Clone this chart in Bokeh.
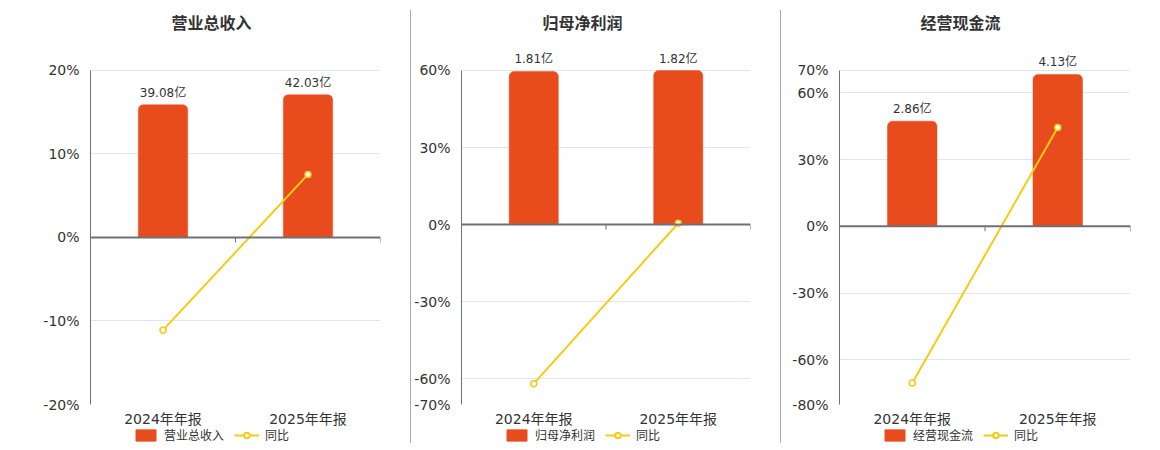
from bokeh.plotting import figure
from bokeh.models import (Range1d, FixedTicker, PrintfTickFormatter, Span, Legend,
                          LegendItem, ColumnDataSource, Div, FactorRange)
from bokeh.transform import dodge
from bokeh.layouts import row, column
from bokeh.embed import file_html
from bokeh.resources import INLINE
from bokeh.core.properties import value

# ---------------- data ----------------
categories = ["2024年年报", "2025年年报"]
titles = ["营业总收入", "归母净利润", "经营现金流"]
bar_values = [[39.08, 42.03], [1.81, 1.82], [2.86, 4.13]]
bar_labels = [["39.08亿", "42.03亿"], ["1.81亿", "1.82亿"], ["2.86亿", "4.13亿"]]
yoy_label = "同比"
yoy_values = [[-11.1, 7.55], [-61.9, 0.55], [-70.3, 44.4]]
pct_ticks = [[-20, -10, 0, 10, 20], [-70, -60, -30, 0, 30, 60], [-80, -60, -30, 0, 30, 60, 70]]
pct_ranges = [(-20, 20), (-70, 60), (-80, 70)]
bar_axis_top = [49.2, 1.822, 4.24]

# ---------------- style ----------------
BAR = "#E84C1D"
YEL = "#F5CB14"
AXIS = "#6e7079"
GRID = "#e0e6f1"
TXT = "#333333"
FONT = "DejaVu Sans, Noto Sans CJK SC"

widths = [402, 369, 371]
b_left = [82, 48, 58]
b_right = [30, 30, 22]
H = 429
HEAD = 20            # px of headroom above the top gridline (room for bar labels)
B_TOP = 70 - HEAD
B_BOT = 24
PLOT_PX = H - 70 - B_BOT   # pixel height of the gridded area
LEG_H = 18


def panel(i):
    lo, hi = pct_ranges[i]
    ext = HEAD * (hi - lo) / PLOT_PX
    p = figure(width=widths[i], height=H,
               x_range=FactorRange(*categories),
               y_range=Range1d(lo, hi + ext),
               output_backend="svg", toolbar_location=None,
               min_border_left=b_left[i], min_border_right=b_right[i],
               min_border_top=B_TOP, min_border_bottom=B_BOT)
    p.outline_line_color = None
    p.background_fill_color = "white"
    p.border_fill_color = "white"

    top = bar_axis_top[i]
    p.extra_y_ranges = {"bar": Range1d(top * lo / hi, top * (hi + ext) / hi)}

    src = ColumnDataSource(dict(cat=categories, val=bar_values[i],
                                lab=bar_labels[i], yoy=yoy_values[i]))

    # title
    p.title.text = titles[i]
    p.title.align = "left"
    p.title.offset = 81
    p.title.padding = (0, 0, 0, 32 - HEAD)
    p.title.text_font = "Noto Sans CJK SC"
    p.title.text_font_size = "16px"
    p.title.text_font_style = "bold"
    p.title.text_color = TXT

    # axes
    p.yaxis.ticker = FixedTicker(ticks=pct_ticks[i])
    p.yaxis.formatter = PrintfTickFormatter(format="%d%%")
    p.yaxis.bounds = (lo, hi)
    p.yaxis.major_tick_line_color = None
    p.yaxis.minor_tick_line_color = None
    p.yaxis.axis_line_color = AXIS
    p.yaxis.major_label_text_font = FONT
    p.yaxis.major_label_text_font_size = "14px"
    p.yaxis.major_label_text_color = TXT
    p.yaxis.major_label_standoff = 5

    p.xaxis.axis_line_color = None
    p.xaxis.major_tick_line_color = None
    p.xaxis.major_tick_out = 0
    p.xaxis.major_label_text_font = FONT
    p.xaxis.major_label_text_font_size = "14px"
    p.xaxis.major_label_text_color = TXT
    p.xaxis.major_label_standoff = 6

    p.xgrid.grid_line_color = None
    p.ygrid.grid_line_color = GRID
    p.ygrid.grid_line_width = 1

    # bars
    p.vbar(x="cat", top="val", width=0.34, source=src, y_range_name="bar",
           fill_color=BAR, line_color=BAR, line_width=0.5,
           border_radius=(5, 5, 0, 0))
    p.text(x="cat", y="val", text="lab", source=src, y_range_name="bar",
           text_align="center", text_baseline="middle", y_offset=-12,
           text_font=value(FONT), text_font_size="12px", text_color=TXT)

    # zero axis line and its ticks
    p.add_layout(Span(location=0, dimension="width", line_color=AXIS, line_width=2))
    tl = 5.0 * (hi - lo) / PLOT_PX
    p.segment(x0=dodge("cat", 0.5, range=p.x_range), y0=0,
              x1=dodge("cat", 0.5, range=p.x_range), y1=-tl,
              source=src, line_color=AXIS, line_width=1)

    # yoy line
    p.line(x="cat", y="yoy", source=src, line_color=YEL, line_width=2)
    p.scatter(x="cat", y="yoy", source=src, marker="circle", size=6,
              fill_color="white", line_color=YEL, line_width=1.5)

    # legend strip (separate small figure below the chart)
    lf = figure(width=widths[i], height=LEG_H,
                x_range=FactorRange(*categories), y_range=Range1d(0, 1),
                output_backend="svg", toolbar_location=None,
                x_axis_location=None, y_axis_location=None,
                min_border=0)
    lf.outline_line_color = None
    lf.grid.visible = False
    lsrc = ColumnDataSource(dict(cat=categories, val=bar_values[i], yoy=yoy_values[i]))
    lb = lf.vbar(x="cat", top="val", width=0.34, source=lsrc, fill_color=BAR,
                 line_color=BAR, border_radius=3, visible=False)
    ll = lf.line(x="cat", y="yoy", source=lsrc, line_color=YEL, line_width=2,
                 visible=False)
    ls = lf.scatter(x="cat", y="yoy", source=lsrc, marker="circle", size=11,
                    fill_color="white", line_color=YEL, line_width=2, visible=False)
    legend = Legend(items=[LegendItem(label=titles[i], renderers=[lb]),
                           LegendItem(label=yoy_label, renderers=[ll, ls])],
                    orientation="horizontal", location=(43, 4),
                    glyph_width=25, glyph_height=14, label_height=14,
                    label_standoff=6, spacing=10, padding=0, margin=0,
                    border_line_color=None, background_fill_alpha=0,
                    inactive_fill_alpha=0,
                    label_text_font=FONT, label_text_font_size="12px",
                    label_text_color=TXT)
    lf.add_layout(legend, "center")
    return column(p, lf)


def sep():
    return Div(width=1, height=433, margin=(10, 0, 0, 0),
               styles={"background-color": "#aaaaaa"})


panels = [panel(i) for i in range(3)]
layout = row(panels[0], sep(), panels[1], sep(), panels[2], margin=(0, 0, 0, 8))

open("out.html", "w").write(file_html(layout, INLINE))
